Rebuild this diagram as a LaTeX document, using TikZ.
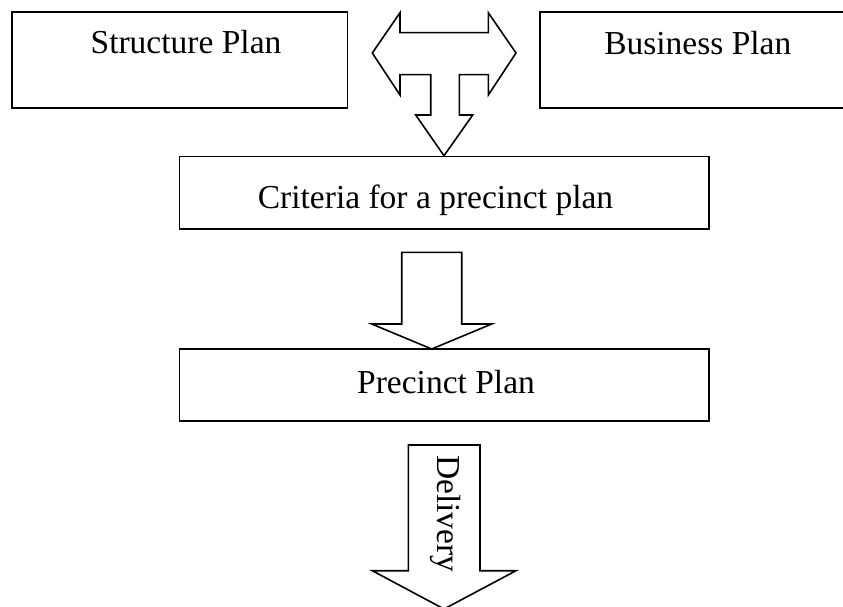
\documentclass[tikz,border=0pt]{standalone}
\usepackage{fontspec}
\setmainfont{Liberation Serif}
\begin{document}
\begin{tikzpicture}[x=1pt,y=-1pt,
  box/.style={draw, line width=1.6pt, inner sep=0pt},
  lbl/.style={font=\fontsize{33.5}{40}\selectfont, inner sep=0pt},
  blockarrow/.style={draw, line width=1.6pt, line join=miter, fill=white}]
\useasboundingbox (0,0) rectangle (843,607);
\clip (0,0) rectangle (843,607);
% boxes
\node[box, minimum width=335.3pt, minimum height=96pt] (sbox) at (179.65,60) {};
\node[box, minimum width=316pt, minimum height=96pt] (bbox) at (698,60) {};
\node[box, minimum width=529.4pt, minimum height=72.4pt] (cbox) at (444,192.5) {};
\node[box, minimum width=529.4pt, minimum height=71.7pt] (pbox) at (444,384.85) {};
% labels
\node[lbl, anchor=base] (slbl) at (186,54) {Structure Plan};
\node[lbl, anchor=base] (blbl) at (697.8,55) {Business Plan};
\node[lbl, anchor=base] (clbl) at (435.5,208) {Criteria for a precinct plan};
\node[lbl, anchor=base] (plbl) at (446,393) {Precinct Plan};
% top T-shaped block arrow
\draw[blockarrow] (372.3,53) -- (400,12.7) -- (400,32.7) -- (488.3,32.7) -- (488.3,12.7)
  -- (516,53) -- (488.3,95) -- (488.3,74.7) -- (459.3,74.7) -- (459.3,115) -- (472.7,115)
  -- (444,155.7) -- (415.7,115) -- (430.7,115) -- (430.7,74.7) -- (400,74.7) -- (400,95) -- cycle;
% middle arrow
\draw[blockarrow] (401.7,252.3) -- (461.7,252.3) -- (461.7,324) -- (491.7,324)
  -- (431.7,349) -- (371.7,324) -- (401.7,324) -- cycle;
% delivery arrow
\draw[blockarrow] (408.3,445) -- (480,445) -- (480,570.7) -- (516,570.7)
  -- (444,609) -- (372.3,570.7) -- (408.3,570.7) -- cycle;
\node[lbl, rotate=-90, anchor=base west] (dlbl) at (437,455) {Delivery};
\end{tikzpicture}
\end{document}
